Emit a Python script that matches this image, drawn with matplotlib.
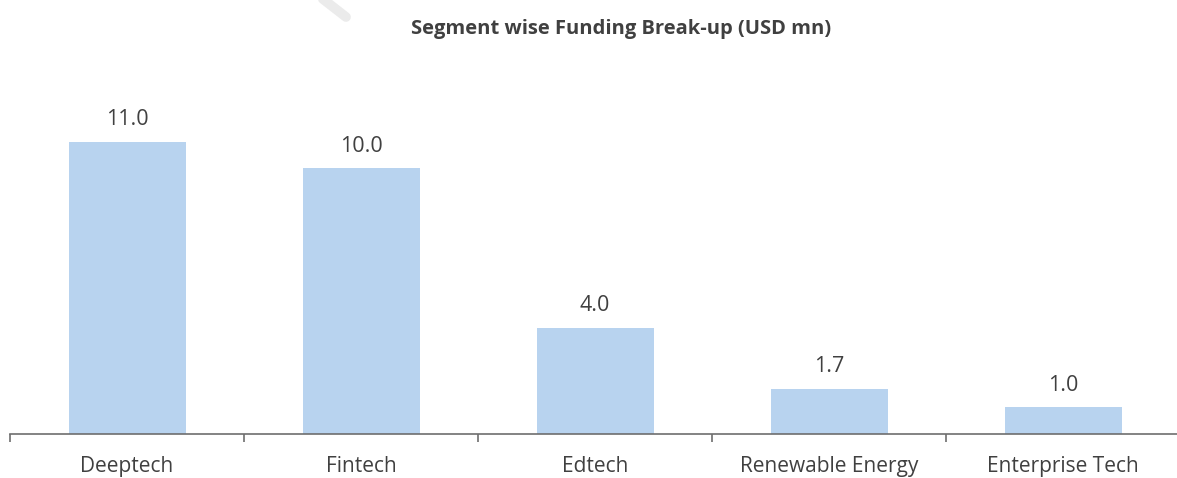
import matplotlib.pyplot as plt
from matplotlib.lines import Line2D

segments = ["Deeptech", "Fintech", "Edtech", "Renewable Energy", "Enterprise Tech"]
funding = [11.0, 10.0, 4.0, 1.7, 1.0]

BAR_COLOR = "#B8D3EF"
TEXT_COLOR = "#404040"
AXIS_COLOR = "#6E6E6E"

plt.rcParams["font.family"] = ["Open Sans", "DejaVu Sans"]

W, H = 1177, 478
fig = plt.figure(figsize=(W / 100, H / 100), dpi=100)
ax = fig.add_axes([10 / W, 44 / H, 1170 / W, 319 / H])

x = list(range(len(segments)))
bars = ax.bar(x, funding, width=0.5, color=BAR_COLOR, zorder=2)
for rect, val in zip(bars, funding):
    ax.annotate(f"{val:.1f}", (rect.get_x() + rect.get_width() / 2, val),
                xytext=(0, 12), textcoords="offset points", ha="center", va="baseline",
                fontsize=15.5, color=TEXT_COLOR)

ax.set_xlim(-0.5, len(segments) - 0.5)
ax.set_ylim(0, 12)
ax.set_yticks([])
for side in ["top", "right", "left"]:
    ax.spines[side].set_visible(False)
ax.spines["bottom"].set_color(AXIS_COLOR)
ax.spines["bottom"].set_linewidth(1.2)

# category labels centred, tick marks between categories
ax.set_xticks(x)
ax.set_xticklabels(segments, fontsize=15, color=TEXT_COLOR)
ax.tick_params(axis="x", which="major", length=0, pad=16)
ax.set_xticks([i - 0.5 for i in range(len(segments) + 1)], minor=True)
ax.tick_params(axis="x", which="minor", length=6, width=1.2, color=AXIS_COLOR)

fig.text(621 / W, 1 - 29 / H, "Segment wise Funding Break-up (USD mn)",
         ha="center", va="center", fontsize=14.5, fontweight="bold", color=TEXT_COLOR)

# faint watermark stroke at top
fig.add_artist(Line2D([318 / W, 346 / W], [1.01, 1 - 17 / H], transform=fig.transFigure,
                      color="#EBEBEB", linewidth=7, solid_capstyle="round"))

fig.savefig("out.png", dpi=100)
